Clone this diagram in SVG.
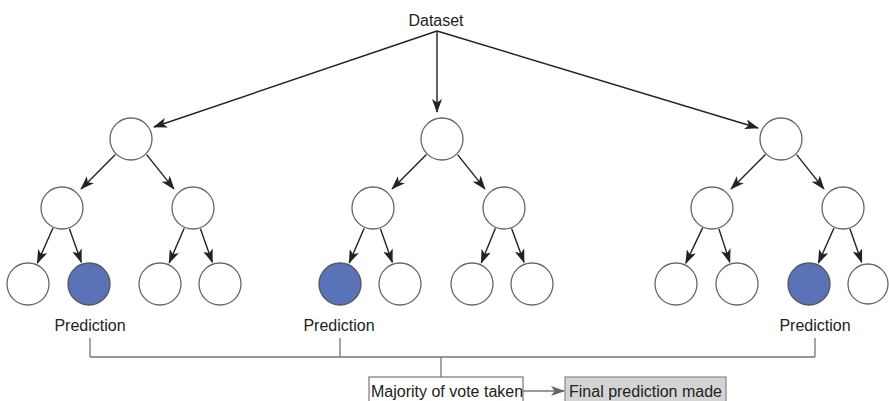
<svg xmlns="http://www.w3.org/2000/svg" width="889" height="401" viewBox="0 0 889 401">
  <style>
    text { font-family: "Liberation Sans", Arial, sans-serif; font-size: 16px; fill: #222; }
    .node { fill: #fff; stroke: #666; stroke-width: 1.3; }
    .leaf-hit { fill: #5a72b8; stroke: #555; stroke-width: 1.3; }
    .edge { stroke: #222; stroke-width: 1.4; fill: none; marker-end: url(#arrow); }
    .bracket { stroke: #777; stroke-width: 1.3; fill: none; }
    .box { fill: #fff; stroke: #777; stroke-width: 1.2; }
    .box-final { fill: #d4d4d4; stroke: #888; stroke-width: 1.2; }
  </style>
  <defs>
    <marker id="arrow" viewBox="0 0 14 10" refX="13" refY="5" markerWidth="14" markerHeight="10" markerUnits="userSpaceOnUse" orient="auto">
      <path d="M0,0 L14,5 L0,10 L3.5,5 z" fill="#222"/>
    </marker>
    <marker id="arrow-grey" viewBox="0 0 14 10" refX="13" refY="5" markerWidth="14" markerHeight="10" markerUnits="userSpaceOnUse" orient="auto">
      <path d="M0,0 L14,5 L0,10 L3.5,5 z" fill="#666"/>
    </marker>
  </defs>

  <g id="dataset">
    <text x="436" y="26" text-anchor="middle">Dataset</text>
  </g>

  <g id="connectors">
    <!-- dataset to tree roots -->
    <line class="edge" x1="437" y1="31" x2="154" y2="127"/>
    <line class="edge" x1="437" y1="31" x2="437" y2="112"/>
    <line class="edge" x1="437" y1="31" x2="758" y2="128"/>
    <!-- tree 1 -->
    <line class="edge" x1="115.4" y1="154.6" x2="81.1" y2="188.9"/>
    <line class="edge" x1="146.6" y1="154.6" x2="173.9" y2="188.9"/>
    <line class="edge" x1="53" y1="228" x2="37.4" y2="263"/>
    <line class="edge" x1="69.4" y1="228.7" x2="81.3" y2="262.3"/>
    <line class="edge" x1="184.2" y1="228.2" x2="169.2" y2="262.9"/>
    <line class="edge" x1="200.4" y1="228.7" x2="212.3" y2="262.3"/>
    <!-- tree 2 -->
    <line class="edge" x1="426.4" y1="154.6" x2="392.1" y2="188.9"/>
    <line class="edge" x1="457.6" y1="154.6" x2="484.9" y2="188.9"/>
    <line class="edge" x1="364.2" y1="228.2" x2="349.2" y2="262.9"/>
    <line class="edge" x1="380.4" y1="228.7" x2="392.3" y2="262.3"/>
    <line class="edge" x1="495.4" y1="228.3" x2="481.3" y2="262.8"/>
    <line class="edge" x1="511.6" y1="228.6" x2="524" y2="262.3"/>
    <!-- tree 3 -->
    <line class="edge" x1="765.4" y1="154.6" x2="731.1" y2="188.9"/>
    <line class="edge" x1="796.6" y1="154.6" x2="823.9" y2="188.9"/>
    <line class="edge" x1="702.6" y1="227.9" x2="685.8" y2="263.2"/>
    <line class="edge" x1="718.9" y1="228.9" x2="729.8" y2="262.2"/>
    <line class="edge" x1="834" y1="228" x2="818.4" y2="263"/>
    <line class="edge" x1="849.9" y1="228.8" x2="861.7" y2="262.3"/>
    <!-- vote bracket -->
    <path class="bracket" d="M90,338 V357 M340,338 V357 M815,338 V357 M90,357 H815 M441,357 V377"/>
    <line class="bracket" x1="523" y1="391" x2="564" y2="391" stroke="#666" marker-end="url(#arrow-grey)"/>
  </g>

  <g id="tree1">
    <circle class="node" cx="131" cy="139" r="21"/>
    <circle class="node" cx="62" cy="208" r="21"/>
    <circle class="node" cx="193" cy="208" r="21"/>
    <circle class="node" cx="28" cy="284" r="21"/>
    <circle class="leaf-hit" cx="89" cy="284" r="21"/>
    <circle class="node" cx="160" cy="284" r="21"/>
    <circle class="node" cx="220" cy="284" r="21"/>
    <text x="90" y="331" text-anchor="middle">Prediction</text>
  </g>

  <g id="tree2">
    <circle class="node" cx="442" cy="139" r="21"/>
    <circle class="node" cx="373" cy="208" r="21"/>
    <circle class="node" cx="504" cy="208" r="21"/>
    <circle class="leaf-hit" cx="340" cy="284" r="21"/>
    <circle class="node" cx="400" cy="284" r="21"/>
    <circle class="node" cx="472" cy="284" r="21"/>
    <circle class="node" cx="532" cy="284" r="21"/>
    <text x="339" y="331" text-anchor="middle">Prediction</text>
  </g>

  <g id="tree3">
    <circle class="node" cx="781" cy="139" r="21"/>
    <circle class="node" cx="712" cy="208" r="21"/>
    <circle class="node" cx="843" cy="208" r="21"/>
    <circle class="node" cx="676" cy="284" r="21"/>
    <circle class="node" cx="737" cy="284" r="21"/>
    <circle class="leaf-hit" cx="809" cy="284" r="21"/>
    <circle class="node" cx="868" cy="284" r="20"/>
    <text x="815" y="331" text-anchor="middle">Prediction</text>
  </g>

  <g id="majority-vote">
    <rect class="box" x="369" y="377" width="154" height="30"/>
    <text x="371" y="397">Majority of vote taken</text>
  </g>

  <g id="final-prediction">
    <rect class="box-final" x="565" y="377" width="161" height="30"/>
    <text x="569" y="397">Final prediction made</text>
  </g>
</svg>
